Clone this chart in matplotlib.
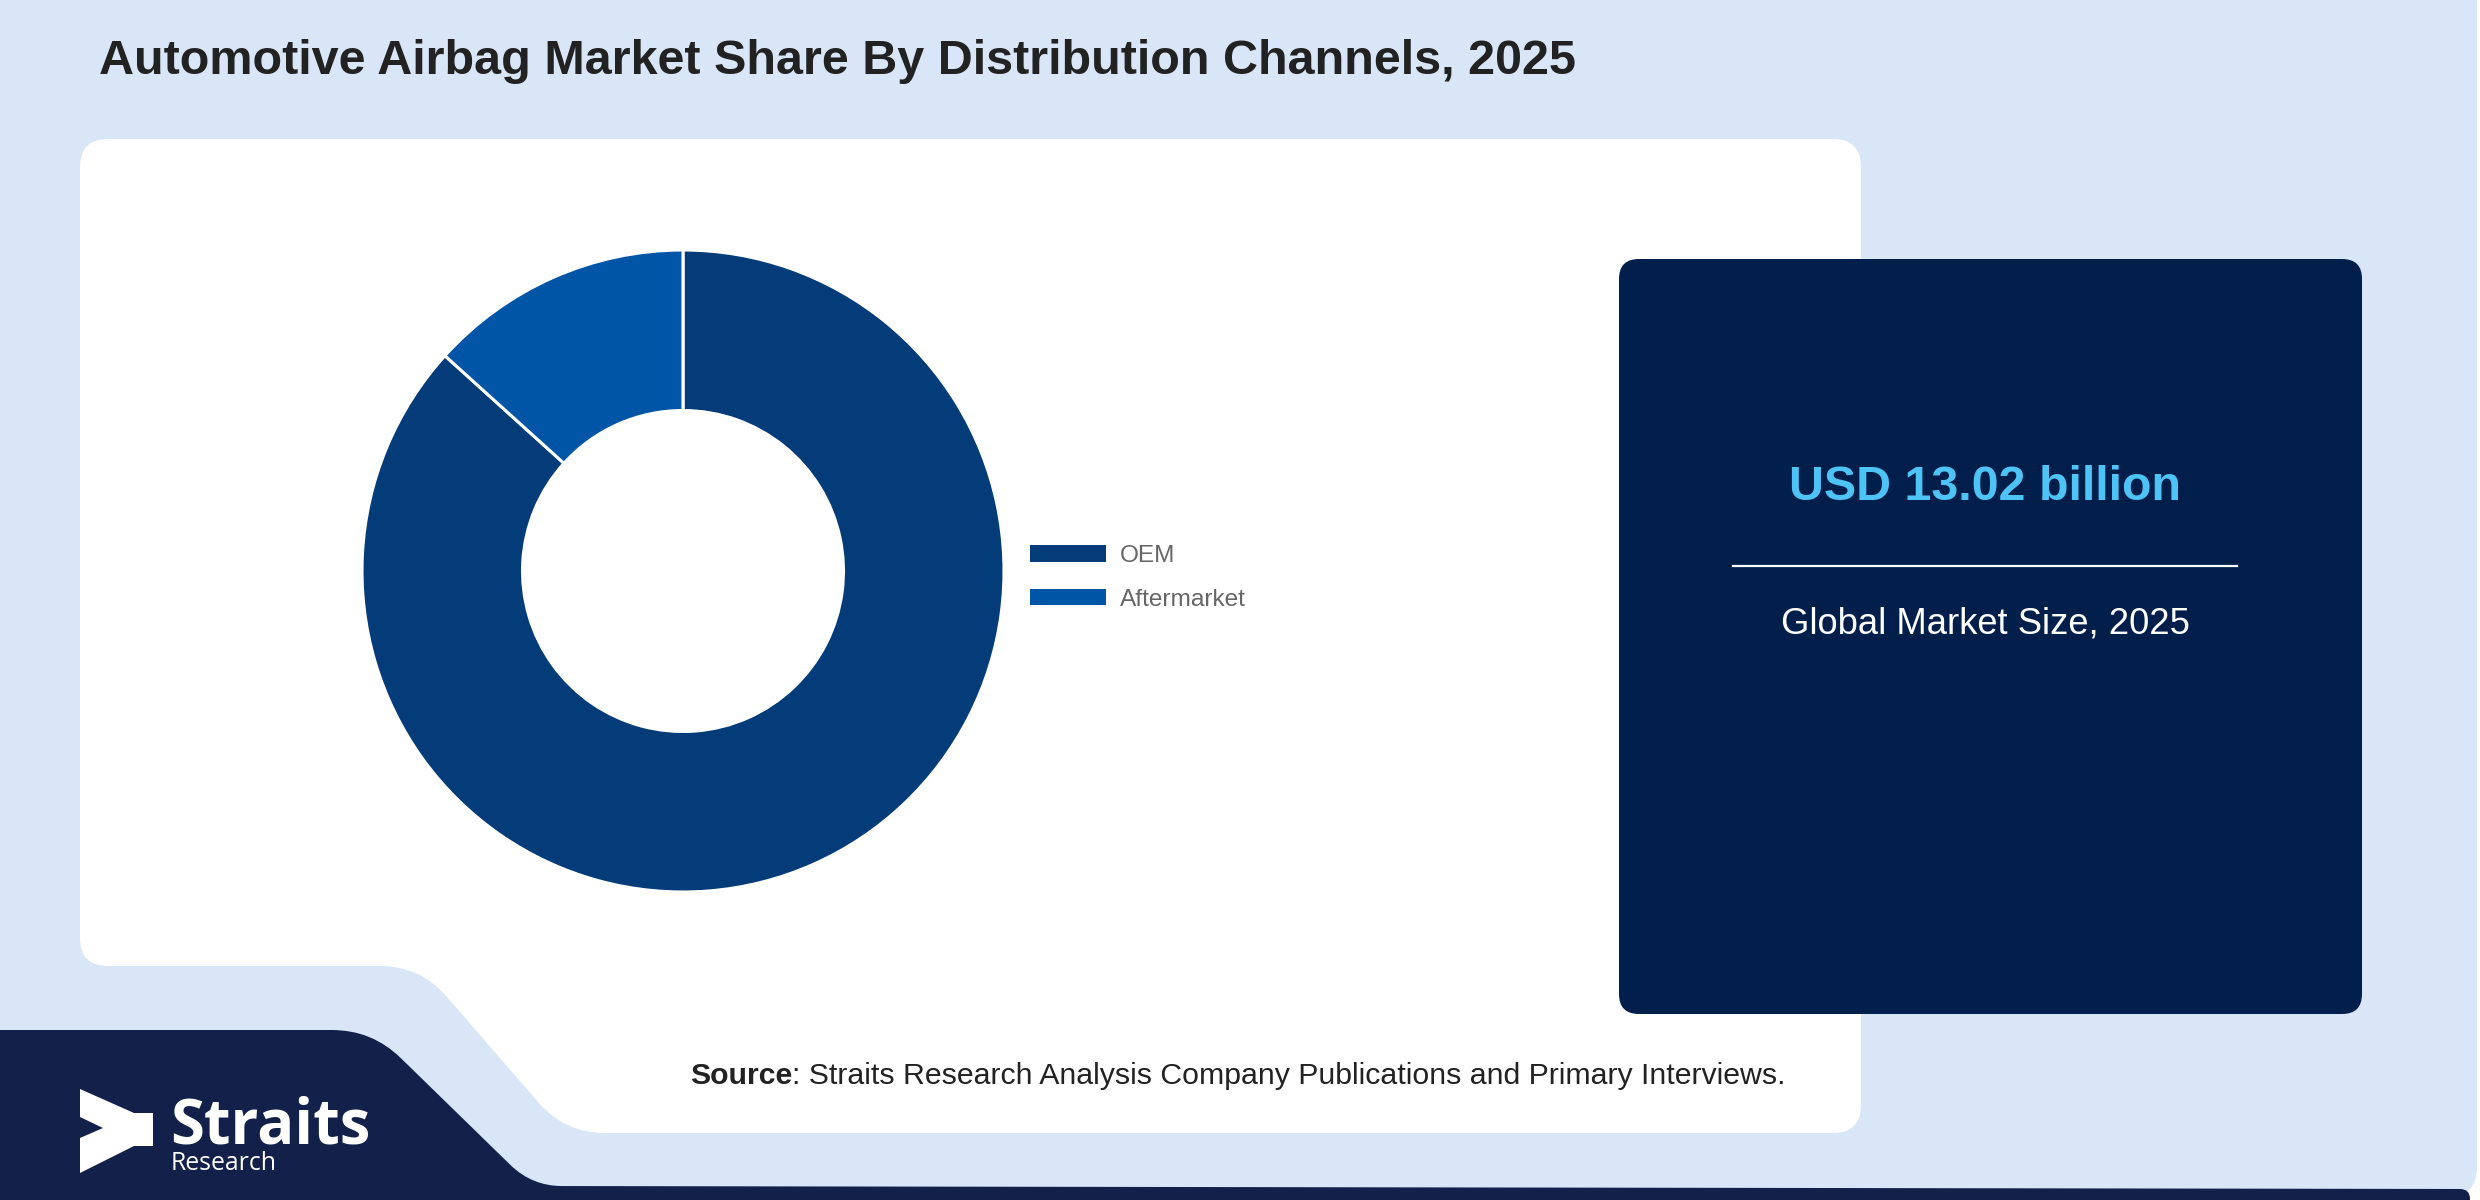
import matplotlib
matplotlib.use("Agg")
import matplotlib.pyplot as plt
from matplotlib.path import Path
from matplotlib.patches import PathPatch
import numpy as np

# ---------------- data ----------------
title = "Automotive Airbag Market Share By Distribution Channels, 2025"
categories = ["OEM", "Aftermarket"]
shares = [86.7, 13.3]
colors = ["#033c79", "#0155a6"]
market_value = "USD 13.02 billion"
market_label = "Global Market Size, 2025"
source_bold = "Source"
source_rest = ": Straits Research Analysis Company Publications and Primary Interviews."

W, H = 2480, 1200
fig = plt.figure(figsize=(W / 100, H / 100), dpi=100)
fig.patch.set_facecolor("white")
bg = fig.add_axes([0, 0, 1, 1])
bg.set_xlim(0, W)
bg.set_ylim(H, 0)
bg.axis("off")

FONT = ["Liberation Sans", "DejaVu Sans"]


def rounded_poly(pts, r, **kw):
    pts = [np.array(p, float) for p in pts]
    n = len(pts)
    verts, codes = [], []
    for i in range(n):
        p0, p1, p2 = pts[i - 1], pts[i], pts[(i + 1) % n]
        rr = r[i] if isinstance(r, (list, tuple)) else r
        d1 = p0 - p1
        d2 = p2 - p1
        l1, l2 = np.linalg.norm(d1), np.linalg.norm(d2)
        rr = min(rr, l1 / 2, l2 / 2)
        a = p1 + d1 / l1 * rr
        b = p1 + d2 / l2 * rr
        if i == 0:
            verts.append(a); codes.append(Path.MOVETO)
        else:
            verts.append(a); codes.append(Path.LINETO)
        verts += [p1, b]
        codes += [Path.CURVE3, Path.CURVE3]
    verts.append(verts[0]); codes.append(Path.CLOSEPOLY)
    patch = PathPatch(Path(verts, codes), **kw)
    bg.add_patch(patch)
    return patch


# light blue card
rounded_poly([(-30, -30), (2477, -30), (2477, 1197), (-30, 1197)], [0, 30, 30, 0],
             facecolor="#d9e6f8", edgecolor="none", zorder=1)
# navy bottom band with logo area
rounded_poly([(-30, 1030), (372, 1030), (532, 1186), (2470, 1189), (2470, 1230), (-30, 1230)],
             [0, 40, 30, 10, 0, 0], facecolor="#13214a", edgecolor="none", zorder=2)
# white panel
rounded_poly([(80, 139), (1861, 139), (1861, 1133), (565, 1133), (420, 966), (80, 966)],
             [28, 28, 28, 40, 40, 28], facecolor="white", edgecolor="none", zorder=3)
# navy info box
rounded_poly([(1619, 259), (2362, 259), (2362, 1014), (1619, 1014)], 20,
             facecolor="#011f4a", edgecolor="none", zorder=3)

renderer = fig.canvas.get_renderer()


def fit_text(x, y, s, target_w, size0=20, **kw):
    t = bg.text(x, y, s, fontsize=size0, zorder=6, **kw)
    w = t.get_window_extent(renderer).width
    t.set_fontsize(size0 * target_w / w)
    return t


# title
fit_text(99, 62, title, 1477, family=FONT, weight="bold", color="#222222",
         ha="left", va="center")

# info box texts
fit_text(1985, 487, market_value, 392, family=FONT, weight="bold", color="#4ec3f6",
         ha="center", va="center")
bg.plot([1733, 2237], [566, 566], color="white", lw=1.6, zorder=6)
fit_text(1985, 624, market_label, 408, family=FONT, color="white",
         ha="center", va="center")

# source line
fs = 19
for _ in range(3):
    for t in list(bg.texts):
        if getattr(t, "_src", False):
            t.remove()
    t1 = bg.text(690, 1076, source_bold, fontsize=fs, family=FONT, weight="bold",
                 color="#222222", ha="left", va="center", zorder=6)
    t1._src = True
    w1 = t1.get_window_extent(renderer).width
    t2 = bg.text(690 + w1, 1076, source_rest, fontsize=fs, family=FONT,
                 color="#222222", ha="left", va="center", zorder=6)
    t2._src = True
    w2 = t2.get_window_extent(renderer).width
    fs = fs * 1097 / (w1 + w2)

# logo
logo = [(80, 1089), (134, 1113), (153, 1113), (153, 1146), (134, 1146), (80, 1173),
        (80, 1138), (103, 1128), (80, 1117)]
bg.add_patch(plt.Polygon(logo, closed=True, facecolor="white", edgecolor="none", zorder=6))
fit_text(170, 1143, "Straits", 200, family=["Open Sans", "DejaVu Sans"], weight="bold",
         color="white", ha="left", va="baseline")
fit_text(171, 1170, "Research", 106, family=["Open Sans", "DejaVu Sans"],
         color="white", ha="left", va="baseline")

# donut
cx, cy, R = 683, 571, 321
half = R * 1.04
ax = fig.add_axes([(cx - half) / W, 1 - (cy + half) / H, 2 * half / W, 2 * half / H])
ax.set_zorder(5)
wedges, _ = ax.pie(shares, colors=colors, startangle=90, counterclock=False, radius=1,
                   wedgeprops=dict(width=0.5, edgecolor="white", linewidth=2.2))
ax.set_xlim(-1.04, 1.04)
ax.set_ylim(-1.04, 1.04)
ax.axis("off")

leg = fig.legend(wedges, categories, loc="upper left",
                 bbox_to_anchor=(1030 / W, 1 - 545 / H), frameon=False,
                 prop={"family": FONT, "size": 17.6}, labelcolor="#666666",
                 handlelength=3.1, handleheight=0.68, handletextpad=0.58,
                 labelspacing=0.88, borderpad=0, borderaxespad=0)
for h in leg.legend_handles:
    h.set_edgecolor("none")

fig.savefig("out.png", dpi=100, facecolor="white")
